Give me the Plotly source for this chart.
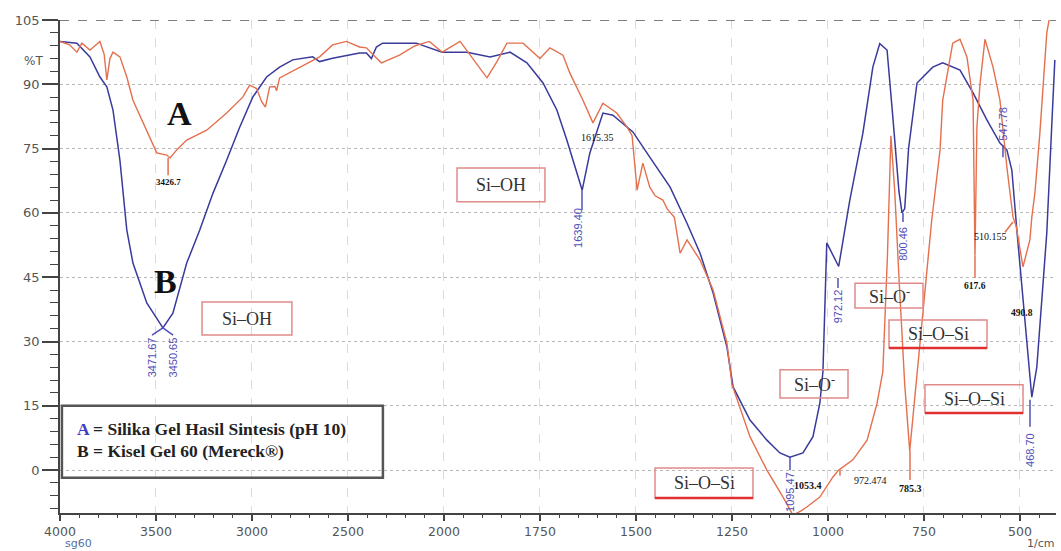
import numpy as np
import plotly.graph_objects as go

# ---------------- data (wavenumber cm-1, %T) ----------------
wn_A = [4000, 3950, 3912, 3886, 3844, 3792, 3770, 3756, 3740, 3724, 3688, 3652, 3620, 3568,
        3496, 3444, 3427, 3392, 3340, 3236, 3132, 3048, 3012, 2976, 2950, 2930, 2908, 2880,
        2872, 2856, 2752, 2648, 2580, 2508, 2440, 2404, 2360, 2326, 2232, 2150, 2076, 2010,
        1958, 1924, 1888, 1862, 1836, 1794, 1750, 1724, 1690, 1672, 1638, 1612, 1586, 1550,
        1523, 1510, 1497, 1482, 1464, 1450, 1430, 1419, 1400, 1385, 1367, 1333, 1299, 1263,
        1250, 1203, 1159, 1117, 1091, 1070, 1055, 1021, 987, 972, 935, 898, 872, 857, 845,
        836, 826, 815, 800, 787, 760, 730, 708, 701, 675, 656, 638, 622, 617, 612, 604, 591,
        570, 552, 534, 518, 510, 492, 474, 469, 461, 448, 430, 422]
T_A = [100, 99.2, 97.5, 99.6, 98, 100, 97, 91, 96, 97.5, 96.4, 91.7, 86.3, 81,
       74, 73.5, 72.8, 74.7, 77, 79.3, 83.3, 87, 89.8, 89, 86, 84.7, 89.4, 89.5,
       88.5, 91.5, 94, 96.4, 99.2, 100, 98.7, 98.5, 96.5, 95, 96.8, 99, 100, 97.5,
       100, 96, 91.5, 95.3, 99.6, 99.6, 96, 98.5, 96.8, 92.6, 86.3, 81, 85.6, 83.3,
       80, 78, 65.3, 71.6, 66, 64, 63, 61, 59, 50.6, 53.7, 49, 42, 29.6,
       20, 7.8, 0, -6.3, -10.5, -9.5, -8.6, -6.3, -1.6, 0, 2.4, 7, 15.6, 23, 50,
       78, 65, 45, 20, 4.5, 30, 58, 74.7, 86.3, 99.6, 100.5, 96.4, 86.3, 50, 80, 90, 100.5,
       94, 86.3, 70.7, 59, 57, 47.4, 53.7, 59, 64.6, 78.6, 102, 106]

wn_B = [4000, 3912, 3844, 3792, 3756, 3724, 3688, 3678, 3652, 3620, 3548, 3480, 3464, 3412,
        3340, 3272, 3204, 3132, 3064, 2996, 2924, 2856, 2788, 2684, 2648, 2580, 2508, 2440,
        2404, 2378, 2352, 2320, 2144, 2010, 1940, 1880, 1828, 1784, 1742, 1706, 1680, 1654,
        1640, 1620, 1586, 1560, 1508, 1464, 1411, 1367, 1333, 1299, 1263, 1247, 1203, 1159,
        1125, 1099, 1065, 1039, 1021, 1013, 1003, 972, 943, 909, 883, 865, 846, 831, 815,
        807, 800, 790, 768, 727, 701, 656, 622, 586, 552, 534, 521, 508, 500, 492, 474, 469,
        456, 430, 414, 409]
T_B = [100, 99.6, 96.4, 91.7, 89.4, 84, 72.3, 67.7, 56, 48.3, 39, 34.3, 33.2, 36.6,
       48.3, 56, 64.5, 72.3, 80, 87, 91.7, 94, 95.7, 96.4, 95.3, 96.1, 96.8, 97.3,
       97.3, 96, 98.7, 99.6, 99.6, 97.5, 97.5, 96.4, 97.5, 95, 90.3, 84, 77, 69.3,
       65.3, 74, 83.3, 82.8, 78.9, 73, 66, 57.6, 50.6, 41.3, 28.7, 19.4, 11.7, 7,
       4, 3, 4, 7.8, 15.6, 23, 53, 47.5, 63, 78.6, 94, 99.5, 98, 82.4, 65,
       60, 61, 75, 90.3, 94, 95, 93.3, 88, 81.7, 76.3, 74.7, 70, 56, 48, 39.6, 22, 17,
       24, 55.3, 86.3, 95.7]

tick_wn = [4000, 3500, 3000, 2500, 2000, 1750, 1500, 1250, 1000, 750, 500]
tick_text = [str(v) for v in tick_wn]

C_A = "#E4704E"
C_B = "#3A3A9C"
C_BL = "#5050B8"


def U(w):
    """Spectrometer x scale: 2x compressed above 2000 cm-1."""
    w = np.asarray(w, dtype=float)
    return np.where(w > 2000, 2000 + (w - 2000) / 2.0, w)


fig = go.Figure()
fig.add_trace(go.Scatter(x=U(wn_B), y=T_B, mode="lines",
                         line=dict(color=C_B, width=1.5), hoverinfo="skip"))
fig.add_trace(go.Scatter(x=U(wn_A), y=T_A, mode="lines",
                         line=dict(color=C_A, width=1.4), hoverinfo="skip"))

shapes = []
annos = []

# top dashed border
shapes.append(dict(type="line", xref="paper", yref="y", x0=0, x1=1, y0=105, y1=105,
                   line=dict(color="#555", width=1.5, dash="dash")))

# ---- annotation boxes ----
boxes = [  # (w0, w1, T0, T1, text, red bottom)
    (3260, 2792, 39.2, 31.5, "Si–OH", False),
    (1966, 1737, 70.5, 62.6, "Si–OH", False),
    (929.5, 752.4, 43.6, 37.8, "Si–O<sup>-</sup>", False),
    (840.9, 585.7, 35.0, 28.5, "Si–O–Si", True),
    (1124.8, 947.7, 23.4, 16.8, "Si–O<sup>-</sup>", False),
    (1450.4, 1195.1, 0.5, -6.5, "Si–O–Si", True),
    (747.2, 491.9, 19.9, 13.3, "Si–O–Si", True),
]
for w0, w1, t0, t1, txt, red in boxes:
    u0, u1 = float(U(w0)), float(U(w1))
    shapes.append(dict(type="rect", x0=u0, x1=u1, y0=t1, y1=t0,
                       line=dict(color="#E08A8A", width=1.5)))
    if red:
        shapes.append(dict(type="line", x0=u0, x1=u1, y0=t1, y1=t1,
                           line=dict(color="#E03030", width=2.5)))
    annos.append(dict(x=(u0 + u1) / 2, y=(t0 + t1) / 2, text=txt, showarrow=False,
                      font=dict(family="Liberation Serif", size=18, color="#333")))

# ---- legend box ----
shapes.append(dict(type="rect", x0=float(U(3990)), x1=float(U(2318)), y0=-1.8, y1=15,
                   line=dict(color="#555", width=2.5)))
annos.append(dict(x=float(U(3922)), y=9.5, xanchor="left", showarrow=False,
                  text="<b><span style='color:#3c3cc8'>A</span> = Silika Gel Hasil Sintesis (pH 10)</b>",
                  font=dict(family="Liberation Serif", size=17.5, color="#222")))
annos.append(dict(x=float(U(3922)), y=4.5, xanchor="left", showarrow=False,
                  text="<b>B = Kisel Gel 60 (Mereck®)</b>",
                  font=dict(family="Liberation Serif", size=17.5, color="#222")))

# ---- big letters ----
annos.append(dict(x=float(U(3375)), y=83.3, text="<b>A</b>", showarrow=False,
                  font=dict(family="Liberation Serif", size=34, color="#111")))
annos.append(dict(x=float(U(3453)), y=43.9, text="<b>B</b>", showarrow=False,
                  font=dict(family="Liberation Serif", size=34, color="#111")))

# ---- peak label tick lines ----
ticklines = [  # (w0, T0, w1, T1, color)
    (3437, 72.8, 3437, 68.8, C_A),
    (968.6, 0.0, 968.6, -1.3, C_A),
    (786.3, 4.5, 786.3, -2.3, C_A),
    (617.0, 50.0, 617.0, 44.8, C_A),
    (538.9, 55.5, 518.2, 57.9, C_A),
    (3464, 33.2, 3521, 31.5, C_BL),
    (3464, 33.2, 3411, 31.5, C_BL),
    (1640.5, 65.3, 1640.5, 60.7, C_BL),
    (1098.8, 3.1, 1098.8, 0.0, C_BL),
    (973.8, 44.8, 973.8, 42.5, C_BL),
    (804.5, 60.0, 804.5, 57.9, C_BL),
    (544.1, 75.8, 544.1, 73.0, C_BL),
    (473.7, 16.4, 473.7, 10.1, C_BL),
]
for w0, t0, w1, t1, c in ticklines:
    shapes.append(dict(type="line", x0=float(U(w0)), x1=float(U(w1)), y0=t0, y1=t1,
                       line=dict(color=c, width=1.5)))

# black peak labels (sample A)
black_labels = [  # (w, T, text, bold, size)
    (3437, 67.2, "3426.7", True, 9),
    (1599, 77.7, "1615.35", False, 10),
    (1052, -3.5, "1053.4", True, 10),
    (890.4, -2.5, "972.474", False, 10),
    (783.7, -4.4, "785.3", True, 10),
    (617.0, 43.0, "617.6", True, 9.5),
    (577.8, 54.4, "510.155", False, 10),
    (494.6, 36.7, "490.8", True, 9.5),
]
for w, t, txt, b, s in black_labels:
    annos.append(dict(x=float(U(w)), y=t, text=f"<b>{txt}</b>" if b else txt, showarrow=False,
                      font=dict(family="Liberation Serif", size=s, color="#111")))

# blue rotated peak labels (sample B)
blue_labels = [
    (3521, 26.3, "3471.67"),
    (3411, 26.3, "3450.65"),
    (1651, 56.5, "1639.40"),
    (1098.8, -5.1, "1095.47"),
    (973.8, 38.2, "972.12"),
    (804.5, 52.8, "800.46"),
    (544.1, 80.8, "547.78"),
    (473.7, 4.7, "468.70"),
]
for w, t, txt in blue_labels:
    annos.append(dict(x=float(U(w)), y=t, text=txt, showarrow=False, textangle=-90,
                      font=dict(family="Liberation Sans Narrow, Liberation Sans, sans-serif",
                                size=11, color=C_BL)))

# axis captions
annos.append(dict(xref="paper", yref="paper", x=-0.038, y=0.935, text="%T", showarrow=False,
                  font=dict(family="DejaVu Sans", size=12, color="#555")))
annos.append(dict(xref="paper", yref="paper", x=0.003, y=-0.079, xanchor="left", yanchor="bottom",
                  text="sg60", showarrow=False,
                  font=dict(family="DejaVu Sans", size=11, color="#5570a0")))
annos.append(dict(xref="paper", yref="paper", x=1.0, y=-0.079, xanchor="right", yanchor="bottom",
                  text="1/cm", showarrow=False,
                  font=dict(family="DejaVu Sans", size=11, color="#555")))

fig.update_layout(
    width=1061, height=551,
    margin=dict(l=60, r=5, t=20, b=38, autoexpand=False),
    plot_bgcolor="white", paper_bgcolor="white",
    showlegend=False,
    shapes=shapes, annotations=annos,
    xaxis=dict(range=[3000, 406], tickmode="array", tickvals=U(tick_wn).tolist(),
               ticktext=tick_text, ticks="outside", ticklen=6, tickwidth=1.5, tickcolor="#444",
               showline=True, linecolor="#444", linewidth=1.5, zeroline=False,
               showgrid=True, gridcolor="#dadada", griddash="dash", gridwidth=1,
               minor=dict(tickmode="array", tickvals=list(range(450, 3001, 50)),
                          ticks="outside", ticklen=3, tickwidth=1.2, tickcolor="#444",
                          showgrid=False),
               tickfont=dict(family="DejaVu Sans", size=12.5, color="#555")),
    yaxis=dict(range=[-10, 105], tick0=0, dtick=15, ticks="outside", ticklen=16, tickwidth=1.5,
               tickcolor="#444", showline=True, linecolor="#444", linewidth=1.5, zeroline=False,
               showgrid=True, gridcolor="#b8b8b8", griddash="dot", gridwidth=1,
               minor=dict(dtick=3, ticks="outside", ticklen=8, tickwidth=1.2, tickcolor="#444",
                          showgrid=False),
               tickfont=dict(family="DejaVu Sans", size=13, color="#555")),
)

fig.write_html("out.html", config={"displayModeBar": False},
               post_script="document.body.style.margin='0';document.body.style.padding='0';")
